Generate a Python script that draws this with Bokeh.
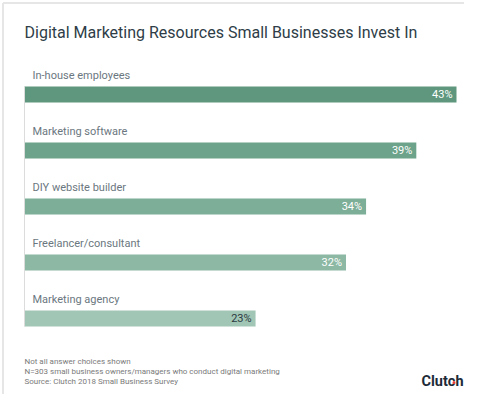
from bokeh.plotting import figure
from bokeh.models import Range1d, ColumnDataSource
from bokeh.core.properties import value
from bokeh.embed import file_html
from bokeh.resources import INLINE

title = "Digital Marketing Resources Small Businesses Invest In"
categories = ["In-house employees", "Marketing software", "DIY website builder",
              "Freelancer/consultant", "Marketing agency"]
values = [43, 39, 34, 32, 23]
value_labels = ["43%", "39%", "34%", "32%", "23%"]
bar_colors = ["#5e977d", "#6ca38a", "#7dae98", "#8cb8a4", "#a2c6b5"]
label_colors = ["#ffffff", "#ffffff", "#ffffff", "#ffffff", "#2b3a42"]
notes = ["Not all answer choices shown",
         "N=303 small business owners/managers who conduct digital marketing",
         "Source: Clutch 2018 Small Business Survey"]
brand = "Clutch"

W, H = 464, 394
FONT = value("Roboto")

# layout: value 0 -> 24px, value 43 -> 456px
ppu = 432 / 43
x0 = -24 / ppu
x1 = (W - 24) / ppu

def px(xpix):
    return (xpix - 24) / ppu

p = figure(width=W, height=H, output_backend="svg", toolbar_location=None,
           x_range=Range1d(x0, x1), y_range=Range1d(H, 0), min_border=0)
p.axis.visible = False
p.grid.visible = False
p.outline_line_color = None
p.background_fill_color = "white"
p.border_fill_color = "white"

# light card border (left and top visible within the page)
p.segment(x0=[px(2.5), px(2.5)], y0=[2.5, 2.5], x1=[px(2.5), x1], y1=[H, 2.5],
          line_color="#e6e6e6", line_width=2)

ys = [94 + i * 56 for i in range(len(values))]
src = ColumnDataSource(dict(cat=categories, val=values, lab=value_labels,
                            col=bar_colors, lcol=label_colors, y=ys,
                            ly=[y - 19 for y in ys]))

p.hbar(y="y", left=0, right="val", height=16, color="col", source=src,
       line_color=None)
p.segment(x0=[0], y0=[ys[0] - 8], x1=[0], y1=[ys[-1] + 8],
          line_color="#dcdcdc", line_width=1)

p.text(x=0, y="ly", text="cat", x_offset=8, text_baseline="middle",
       text_align="left", text_font=FONT, text_font_size="11px",
       text_color="#6b7780", source=src)
p.text(x="val", y="y", text="lab", x_offset=-4, text_baseline="middle",
       text_align="right", text_font=FONT, text_font_size="11px",
       text_color="lcol", source=src)

p.text(x=[0], y=[32], text=[title], text_baseline="middle", text_align="left",
       text_font=FONT, text_font_size="16px", text_color="#2e3d47")

p.text(x=[0] * 3, y=[361, 371, 381], text=notes, text_baseline="middle",
       text_align="left", text_font=FONT, text_font_size="8px",
       text_color="#7a7a7a")

p.text(x=[px(463)], y=[381], text=[brand], text_baseline="middle",
       text_align="right", text_font=FONT, text_font_size="14.5px",
       text_font_style="bold", text_color="#1d2b38")
p.scatter(x=[px(453.5)], y=[382], size=3, color="#e8403d", line_color=None)

open("out.html", "w").write(file_html(p, INLINE))
